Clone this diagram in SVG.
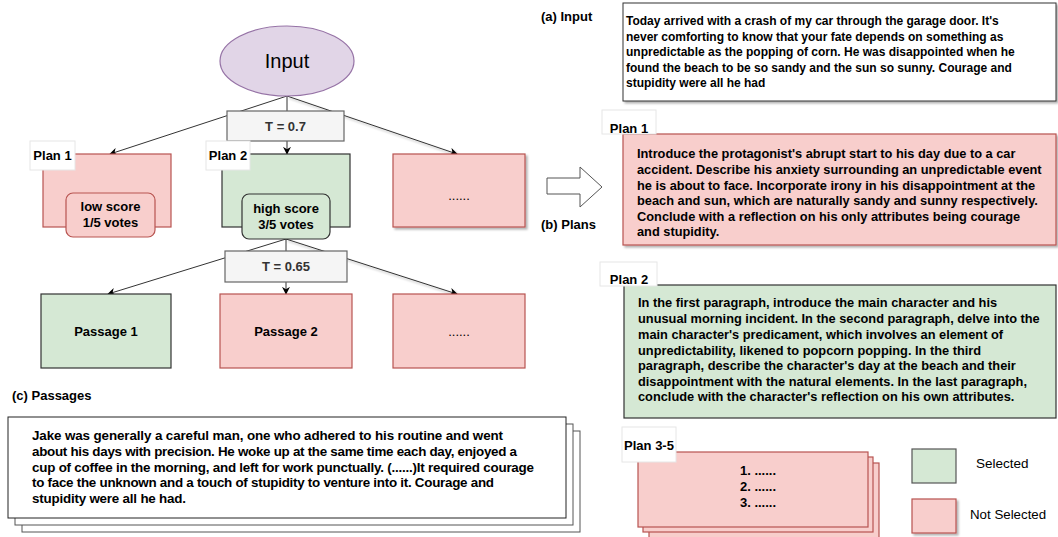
<svg xmlns="http://www.w3.org/2000/svg" width="1058" height="537" viewBox="0 0 1058 537">
<defs>
<marker id="arr" viewBox="0 0 10 10" refX="9" refY="5" markerWidth="8" markerHeight="8" orient="auto" markerUnits="userSpaceOnUse">
<path d="M0,0 L10,5 L0,10 L3,5 Z" fill="#000"/>
</marker>
<filter id="sh" x="-10%" y="-10%" width="130%" height="130%">
<feDropShadow dx="2" dy="2" stdDeviation="1.2" flood-color="#000" flood-opacity="0.3"/>
</filter>
</defs>
<style>
text{font-family:"Liberation Sans",Arial,sans-serif;fill:#000}
.b{font-weight:bold;font-size:13px}
.c{text-anchor:middle}
.red{fill:#f8cecc;stroke:#b85450;stroke-width:1.2}
.grn{fill:#d5e8d4;stroke:#333;stroke-width:1.2}
.tbox{fill:#f5f5f5;stroke:#666;stroke-width:1.2}
.lbl{fill:#fff;stroke:#e6e6e6;stroke-width:1}
.t{font-size:13px;font-weight:bold;fill:#333}
.ln{stroke:#333;stroke-width:1;fill:none}
.body{font-weight:bold;font-size:12.8px}
.inp{font-weight:bold;font-size:12px}
.pas{font-weight:bold;font-size:13.4px}
</style>
<g id="connectors">
<line class="ln" x1="287" y1="96" x2="110" y2="154" marker-end="url(#arr)"/>
<line class="ln" x1="287" y1="96" x2="287" y2="154" marker-end="url(#arr)"/>
<line class="ln" x1="287" y1="96" x2="457" y2="154" stroke="#555" stroke-width="1.5" marker-end="url(#arr)" filter="url(#sh)"/>
<line class="ln" x1="286" y1="239" x2="108" y2="294" marker-end="url(#arr)"/>
<line class="ln" x1="286" y1="239" x2="286" y2="294" marker-end="url(#arr)"/>
<line class="ln" x1="286" y1="239" x2="457" y2="294" stroke="#555" stroke-width="1.5" marker-end="url(#arr)" filter="url(#sh)"/>
</g>
<g id="input">
<ellipse cx="287" cy="61" rx="67" ry="35" fill="#e1d5e7" stroke="#9673a6" stroke-width="1.2"/>
<text x="287" y="68" class="c" font-size="20" fill="#222">Input</text>
</g>
<g id="t07">
<rect x="227" y="111" width="117" height="30" class="tbox"/>
<text x="285.5" y="131" class="c t">T = 0.7</text>
</g>
<g id="plan1">
<rect x="43" y="154" width="128" height="73" class="red"/>
<rect x="30" y="141" width="45" height="29" class="lbl"/>
<text x="52.5" y="160" class="b c">Plan 1</text>
</g>
<g id="lowscore">
<rect x="66" y="193" width="89" height="44" rx="7" class="red"/>
<text x="110.5" y="211" class="b c" font-size="13.5">low score</text>
<text x="110.5" y="227" class="b c" font-size="13.5">1/5 votes</text>
</g>
<g id="plan2">
<rect x="222" y="154" width="128" height="73" class="grn" stroke="#000"/>
<rect x="206" y="141" width="44" height="29" class="lbl"/>
<text x="228" y="160" class="b c">Plan 2</text>
</g>
<g id="highscore">
<rect x="242" y="194" width="88" height="45" rx="7" class="grn"/>
<text x="286" y="213" class="b c" font-size="13.5">high score</text>
<text x="286" y="229" class="b c" font-size="13.5">3/5 votes</text>
</g>
<g id="plan3">
<rect x="393" y="154" width="132" height="73" class="red" filter="url(#sh)"/>
<text x="459" y="200" class="c" font-size="13">......</text>
</g>
<g id="t065">
<rect x="225" y="251" width="122" height="31" class="tbox"/>
<text x="286" y="271" class="c t">T = 0.65</text>
</g>
<g id="passage1">
<rect x="41" y="294" width="130" height="74" class="grn"/>
<text x="106" y="336" class="b c" font-size="14">Passage 1</text>
</g>
<g id="passage2">
<rect x="220" y="294" width="132" height="74" class="red"/>
<text x="286" y="336" class="b c" font-size="14">Passage 2</text>
</g>
<g id="passage3">
<rect x="393" y="294" width="132" height="74" class="red"/>
<text x="459" y="336" class="c" font-size="13">......</text>
</g>
<g id="arrowBig">
<polygon points="547,178 580,178 580,167 602,187 580,207 580,194 547,194" fill="#fff" stroke="#555" stroke-width="1"/>
</g>
<g id="labels">
<text x="541" y="21" class="b" font-size="12.8">(a) Input</text>
<text x="541" y="229" class="b" font-size="12.8">(b) Plans</text>
<text x="12" y="400" class="b" font-size="12.8">(c) Passages</text>
</g>
<g id="passages">
<rect x="22" y="431" width="558" height="101" fill="#fff" stroke="#555" stroke-width="1"/>
<rect x="15" y="424" width="558" height="101" fill="#fff" stroke="#555" stroke-width="1"/>
<rect x="8" y="417" width="558" height="101" fill="#fff" stroke="#222" stroke-width="1"/>
<text class="pas" x="32" y="440" textLength="471">Jake was generally a careful man, one who adhered to his routine and went</text>
<text class="pas" x="32" y="456" textLength="485">about his days with precision. He woke up at the same time each day, enjoyed a</text>
<text class="pas" x="32" y="472" textLength="502">cup of coffee in the morning, and left for work punctually. (......)It required courage</text>
<text class="pas" x="32" y="487" textLength="462">to face the unknown and a touch of stupidity to venture into it. Courage and</text>
<text class="pas" x="32" y="503" textLength="154">stupidity were all he had.</text>
</g>
<g id="inputText">
<rect x="623" y="3" width="433" height="98" fill="#fff" stroke="#333" stroke-width="1" filter="url(#sh)"/>
<text class="inp"><tspan x="626" y="25">Today arrived with a crash of my car through the garage door. It's</tspan><tspan x="626" y="41">never comforting to know that your fate depends on something as</tspan><tspan x="626" y="56">unpredictable as the popping of corn. He was disappointed when he</tspan><tspan x="626" y="72">found the beach to be so sandy and the sun so sunny. Courage and</tspan><tspan x="626" y="87">stupidity were all he had</tspan></text>
</g>
<g id="plan1Text">
<rect x="623" y="134" width="433" height="111" class="red" stroke="#555" filter="url(#sh)"/>
<rect x="602" y="110" width="54" height="24" class="lbl"/>
<text x="629" y="133" class="b c">Plan 1</text>
<text class="body"><tspan x="637" y="158">Introduce the protagonist's abrupt start to his day due to a car</tspan><tspan x="637" y="174">accident. Describe his anxiety surrounding an unpredictable event</tspan><tspan x="637" y="190">he is about to face. Incorporate irony in his disappointment at the</tspan><tspan x="637" y="205">beach and sun, which are naturally sandy and sunny respectively.</tspan><tspan x="637" y="221">Conclude with a reflection on his only attributes being courage</tspan><tspan x="637" y="236">and stupidity.</tspan></text>
</g>
<g id="plan2Text">
<rect x="624" y="285" width="432" height="133" class="grn" stroke="#222"/>
<rect x="600" y="262" width="57" height="24" class="lbl"/>
<text x="629" y="284" class="b c">Plan 2</text>
<text class="body"><tspan x="638" y="307">In the first paragraph, introduce the main character and his</tspan><tspan x="638" y="323">unusual morning incident. In the second paragraph, delve into the</tspan><tspan x="638" y="339">main character's predicament, which involves an element of</tspan><tspan x="638" y="355">unpredictability, likened to popcorn popping. In the third</tspan><tspan x="638" y="370">paragraph, describe the character's day at the beach and their</tspan><tspan x="638" y="386">disappointment with the natural elements. In the last paragraph,</tspan><tspan x="638" y="401">conclude with the character's reflection on his own attributes.</tspan></text>
</g>
<g id="plan35">
<rect x="649" y="463" width="230" height="80" class="red" stroke="#555"/>
<rect x="643" y="457" width="230" height="75" class="red" stroke="#555"/>
<rect x="638" y="452" width="230" height="75" class="red" stroke="#555"/>
<rect x="622" y="427" width="54" height="35" class="lbl"/>
<text x="649" y="450" class="b c">Plan 3-5</text>
<text class="b c"><tspan x="758" y="475">1. ......</tspan><tspan x="758" y="491">2. ......</tspan><tspan x="758" y="507">3. ......</tspan></text>
</g>
<g id="legend">
<rect x="912" y="449" width="44" height="34" fill="#d5e8d4" stroke="#555" stroke-width="1.2"/>
<text x="976" y="468" font-size="13.5">Selected</text>
<rect x="912" y="499" width="44" height="34" class="red" filter="url(#sh)"/>
<text x="970" y="519" font-size="13.3">Not Selected</text>
</g>
</svg>
